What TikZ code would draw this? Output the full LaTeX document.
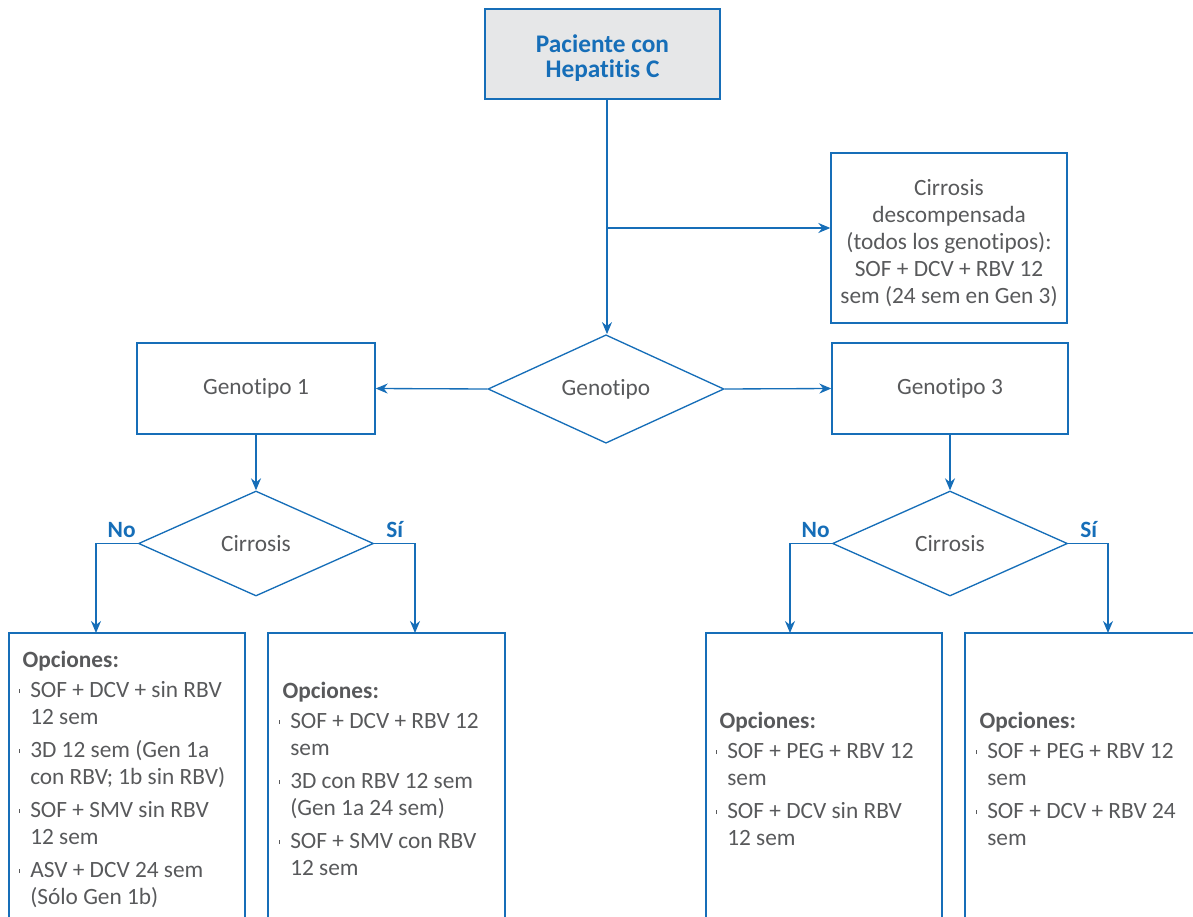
\documentclass[tikz,border=0pt]{standalone}
\usepackage{fontspec}
\setmainfont{Carlito}[RawFeature={-liga;-clig;-calt;-rlig;-dlig}]
\usetikzlibrary{shapes.geometric,arrows.meta,positioning}
\definecolor{azul}{RGB}{22,110,184}
\definecolor{gris}{RGB}{88,89,91}
\definecolor{fondo}{RGB}{230,231,232}

% small tick used as bullet in the option lists
\newcommand{\vineta}{\makebox[8.25pt][l]{\rule[3.3pt]{0.9pt}{3pt}}}
\newcommand{\sangria}{\hspace*{8.25pt}}

\tikzset{
  caja/.style={draw=azul, line width=1pt, text=gris, align=center,
    inner sep=2pt, font=\fontsize{17.5}{20.25}\selectfont},
  inicio/.style={caja, fill=fondo, text=azul,
    font=\bfseries\fontsize{19}{19}\selectfont},
  rombo/.style={diamond, draw=azul, line width=1pt, text=gris, inner sep=0pt,
    font=\fontsize{17.5}{20.25}\selectfont},
  flecha/.style={draw=azul, line width=1pt, -{Stealth[length=9pt,width=7.5pt]}},
  borde/.style={draw=azul, line width=1pt},
  etiq/.style={text=azul, inner sep=0pt, font=\bfseries\fontsize{17.5}{20}\selectfont},
  opciones/.style={anchor=north west, align=left, text=gris, inner sep=0pt,
    font=\fontsize{17.5}{20.25}\selectfont},
}

\begin{document}
\begin{tikzpicture}[x=0.75pt, y=-0.75pt]

% ── Frame (pixel grid of the reference) ─────────────────────────────
\useasboundingbox (0,0) rectangle (1193,917);

% ── Top of the chart ────────────────────────────────────────────────
\node[inicio, minimum width=176.25pt, minimum height=67.5pt] (pac) at (602.5,54)
  {\rule{0pt}{19pt}Paciente con\\Hepatitis C};
\node[caja, minimum width=177pt, minimum height=127.5pt] (desc) at (949,238)
  {\rule{0pt}{19.4pt}Cirrosis\\descompensada\\(todos los genotipos):\\SOF + DCV + RBV 12\\sem (24 sem en Gen 3)};
\node[rombo, minimum width=177pt, minimum height=78pt] (gen) at (606,389) {Genotipo};

\coordinate (rama) at (607,228);
\draw[borde] (pac.south -| rama) -- (rama);
\draw[flecha] (rama) -- (rama |- gen.north);
\draw[flecha] (rama) -- (rama -| desc.west);

% ── Genotypes ───────────────────────────────────────────────────────
\node[caja, minimum width=178.5pt, minimum height=68.25pt] (g1) at (256,388.5) {Genotipo 1};
\node[caja, minimum width=177pt, minimum height=68.25pt] (g3) at (950,388.5) {Genotipo 3};
\draw[flecha] (gen.west) -- (g1.east);
\draw[flecha] (gen.east) -- (g3.west);

% ── Cirrhosis questions ─────────────────────────────────────────────
\node[rombo, minimum width=176.25pt, minimum height=78.75pt] (cir1) at (256,543.5) {Cirrosis};
\node[rombo, minimum width=176.25pt, minimum height=78.75pt] (cir3) at (950,543.5) {Cirrosis};
\draw[flecha] (g1.south) -- (cir1.north);
\draw[flecha] (g3.south) -- (cir3.north);

\node[etiq, anchor=south east, above left=4.5pt and 1.5pt of cir1.west] (no1) {No};
\node[etiq, anchor=south west, above right=4.5pt and 9pt of cir1.east] (si1) {Sí};
\node[etiq, anchor=south east, above left=4.5pt and 1.5pt of cir3.west] (no3) {No};
\node[etiq, anchor=south west, above right=4.5pt and 9pt of cir3.east] (si3) {Sí};

% tops of the option boxes
\coordinate (t1) at (96,633);
\coordinate (t2) at (415,633);
\coordinate (t3) at (790,633);
\coordinate (t4) at (1108,633);
\draw[flecha] (cir1.west) -| (t1);
\draw[flecha] (cir1.east) -| (t2);
\draw[flecha] (cir3.west) -| (t3);
\draw[flecha] (cir3.east) -| (t4);

% ── Option boxes (open at the bottom edge) ──────────────────────────
\draw[borde] (9,917) |- (245,633) -- (245,917);
\draw[borde] (268,917) |- (505,633) -- (505,917);
\draw[borde] (706,917) |- (942,633) -- (942,917);
\draw[borde] (965,917) |- (1193,633);

\node[opciones] (op1) at (19,651) {%
  \hspace*{2.5pt}\textbf{Opciones:}\\[2.25pt]
  \vineta SOF + DCV + sin RBV\\ \sangria 12 sem\\[4.5pt]
  \vineta 3D 12 sem (Gen 1a\\ \sangria con RBV; 1b sin RBV)\\[4.5pt]
  \vineta SOF + SMV sin RBV\\ \sangria 12 sem\\[4.5pt]
  \vineta ASV + DCV 24 sem\\ \sangria (Sólo Gen 1b)};
\node[opciones] (op2) at (279,682) {%
  \hspace*{2.5pt}\textbf{Opciones:}\\[2.25pt]
  \vineta SOF + DCV + RBV 12\\ \sangria sem\\[4.5pt]
  \vineta 3D con RBV 12 sem\\ \sangria (Gen 1a 24 sem)\\[4.5pt]
  \vineta SOF + SMV con RBV\\ \sangria 12 sem};
\node[opciones] (op3) at (716,712) {%
  \hspace*{2.5pt}\textbf{Opciones:}\\[2.25pt]
  \vineta SOF + PEG + RBV 12\\ \sangria sem\\[4.5pt]
  \vineta SOF + DCV sin RBV\\ \sangria 12 sem};
\node[opciones] (op4) at (976,712) {%
  \hspace*{2.5pt}\textbf{Opciones:}\\[2.25pt]
  \vineta SOF + PEG + RBV 12\\ \sangria sem\\[4.5pt]
  \vineta SOF + DCV + RBV 24\\ \sangria sem};

\end{tikzpicture}
\end{document}
